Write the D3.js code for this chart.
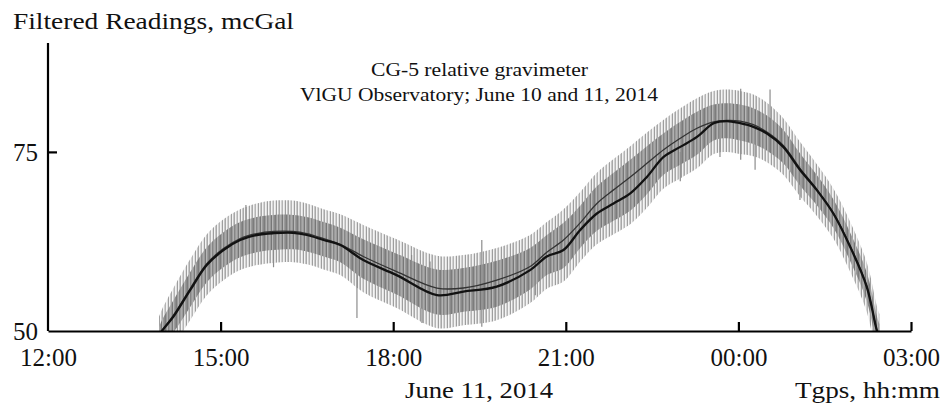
<!DOCTYPE html>
<html>
<head>
<meta charset="utf-8">
<script src="https://cdn.jsdelivr.net/npm/d3@7"></script>
<style>
  html, body { margin: 0; padding: 0; background: #fff; }
  svg { display: block; }
  text { font-family: "Liberation Serif", "Times New Roman", Times, serif; fill: #111; }
</style>
</head>
<body>
<svg id="chart" width="945" height="404"></svg>
<script>
// ---- data (hours since 00:00 June 10, 2014; values in mcGal) ----
const hours = [13.93, 13.98, 14.18, 14.47, 14.76, 15.05, 15.34, 15.63, 15.92, 16.26, 16.50, 16.79, 17.08, 17.48, 18.06, 18.76, 19.22, 19.80, 20.38, 20.67, 20.96, 21.25, 21.54, 21.83, 22.12, 22.41, 22.70, 22.99, 23.28, 23.57, 23.80, 24.03, 24.26, 24.49, 24.78, 25.07, 25.36, 25.65, 25.94, 26.23, 26.41, 26.45];
const runningMean = [49.3, 50.0, 52.0, 55.7, 59.2, 61.3, 62.7, 63.4, 63.65, 63.7, 63.4, 62.7, 62.0, 59.9, 57.8, 55.0, 55.5, 56.2, 58.5, 60.4, 61.3, 64.1, 66.4, 67.8, 69.2, 71.5, 74.3, 75.7, 77.1, 79.0, 79.3, 79.0, 78.5, 77.6, 75.7, 72.5, 69.7, 66.4, 61.8, 56.2, 50.0, 49.3];
const modelCurve = [49.3, 50.0, 52.2, 55.9, 59.4, 61.5, 62.9, 63.6, 63.9, 63.9, 63.6, 62.9, 62.1, 60.4, 58.3, 56.0, 56.0, 57.1, 59.0, 61.0, 62.7, 65.1, 67.8, 69.7, 71.5, 73.4, 75.3, 76.9, 78.3, 79.2, 79.4, 79.3, 78.8, 77.8, 75.9, 72.7, 69.8, 66.5, 61.9, 56.3, 50.0, 49.3];
// dense part of the raw-readings scatter (upper / lower edge)
const rawHighInner = [50.5, 51.5, 54.3, 58.2, 61.7, 63.8, 65.2, 65.9, 66.2, 66.2, 65.9, 65.2, 64.4, 62.8, 60.8, 58.6, 58.8, 59.8, 61.6, 63.4, 65.1, 67.5, 70.2, 72.1, 73.9, 75.8, 77.6, 79.2, 80.6, 81.6, 81.8, 81.6, 81.1, 80.1, 78.1, 74.8, 71.8, 68.4, 63.8, 58.2, 52.0, 51.0];
const rawLowInner  = [47.5, 48.0, 49.8, 53.3, 56.8, 58.9, 60.3, 61.0, 61.3, 61.4, 61.1, 60.4, 59.6, 57.3, 55.1, 52.3, 52.7, 53.4, 55.8, 57.8, 58.8, 61.6, 64.0, 65.4, 66.8, 69.1, 71.8, 73.2, 74.6, 76.6, 76.9, 76.6, 76.1, 75.2, 73.4, 70.3, 67.6, 64.4, 59.8, 54.2, 48.0, 47.3];
// sparse fringe of the raw-readings scatter
const rawHighOuter = [52.0, 53.0, 56.0, 60.0, 63.5, 65.6, 67.0, 67.8, 68.2, 68.2, 67.8, 67.0, 66.3, 64.8, 62.8, 60.5, 60.6, 61.6, 63.4, 65.2, 67.0, 69.4, 72.1, 74.0, 75.8, 77.7, 79.5, 81.1, 82.5, 83.5, 83.7, 83.5, 83.0, 81.9, 79.7, 76.4, 73.3, 69.9, 65.3, 59.6, 53.4, 52.4];
const rawLowOuter  = [46.0, 46.4, 48.0, 51.5, 55.0, 57.1, 58.5, 59.2, 59.5, 59.6, 59.3, 58.6, 57.8, 55.4, 53.2, 50.4, 50.8, 51.5, 53.9, 55.9, 56.9, 59.7, 62.1, 63.5, 64.9, 67.2, 69.9, 71.3, 72.7, 74.7, 75.0, 74.7, 74.4, 73.6, 71.8, 68.8, 66.1, 62.9, 58.3, 52.7, 46.5, 46.0];
// isolated spikes of the raw readings: hour, low, high
const spikeHours = [15.44, 15.92, 17.37, 18.32, 18.50, 18.64, 19.54, 20.47, 22.99, 23.68, 24.04, 24.29, 24.55, 25.07];
const spikeLow   = [62.5, 58.9, 51.8, 57.0, 51.1, 56.0, 50.6, 55.0, 70.9, 74.3, 73.9, 72.5, 77.0, 68.3];
const spikeHigh  = [67.6, 63.5, 61.0, 60.6, 57.0, 59.7, 62.7, 59.0, 75.0, 79.0, 83.8, 78.0, 83.7, 73.0];

const yTicks = [50, 75];
const xTickHours = [12, 15, 18, 21, 24, 27];
const axisTitleY = "Filtered Readings, mcGal";
const axisTitleX = "Tgps, hh:mm";
const dateLabel = "June 11, 2014";
const titleLines = ["CG-5 relative gravimeter", "VlGU Observatory; June 10 and 11, 2014"];

// ---- layout ----
const svg = d3.select("#chart");
const X0 = 48, X1 = 911, Y0 = 331, Y1 = 43;
const base = new Date(2014, 5, 10, 0, 0, 0);
const toDate = h => new Date(base.getTime() + h * 3600 * 1000);

const x = d3.scaleTime().domain([toDate(12), toDate(27)]).range([X0, X1]);
const y = d3.scaleLinear().domain([50, 90.2]).range([Y0, Y1]);

const defs = svg.append("defs");
defs.append("clipPath").attr("id", "plotclip")
  .append("rect").attr("x", X0).attr("y", Y1).attr("width", X1 - X0).attr("height", Y0 - Y1);

// stripe textures imitating the dense vertical scatter of raw readings
const pInner = defs.append("pattern").attr("id", "stripesInner").attr("patternUnits", "userSpaceOnUse")
  .attr("width", 11).attr("height", 50);
pInner.append("rect").attr("width", 11).attr("height", 50).attr("fill", "#9a9a9a");
[[0, "#7c7c7c"], [2, "#b2b2b2"], [3, "#858585"], [5, "#aaaaaa"], [7, "#777777"], [8, "#b6b6b6"], [10, "#8a8a8a"]]
  .forEach(([px, c]) => pInner.append("rect").attr("x", px).attr("width", 1).attr("height", 50).attr("fill", c));
const pOuter = defs.append("pattern").attr("id", "stripesOuter").attr("patternUnits", "userSpaceOnUse")
  .attr("width", 9).attr("height", 50);
pOuter.append("rect").attr("width", 9).attr("height", 50).attr("fill", "#f4f4f4");
[[0, "#a8a8a8"], [2, "#d2d2d2"], [3, "#b4b4b4"], [5, "#e0e0e0"], [6, "#9e9e9e"], [8, "#c8c8c8"]]
  .forEach(([px, c]) => pOuter.append("rect").attr("x", px).attr("width", 1).attr("height", 50).attr("fill", c));

const plot = svg.append("g").attr("clip-path", "url(#plotclip)");
const idx = d3.range(hours.length);

const areaOuter = d3.area().curve(d3.curveCatmullRom)
  .x(i => x(toDate(hours[i]))).y0(i => y(rawLowOuter[i])).y1(i => y(rawHighOuter[i]));
const areaInner = d3.area().curve(d3.curveCatmullRom)
  .x(i => x(toDate(hours[i]))).y0(i => y(rawLowInner[i])).y1(i => y(rawHighInner[i]));

plot.append("path").attr("d", areaOuter(idx)).attr("fill", "url(#stripesOuter)");
plot.append("path").attr("d", areaInner(idx)).attr("fill", "url(#stripesInner)");

plot.selectAll("line.spike").data(d3.range(spikeHours.length)).join("line")
  .attr("class", "spike")
  .attr("x1", i => x(toDate(spikeHours[i]))).attr("x2", i => x(toDate(spikeHours[i])))
  .attr("y1", i => y(spikeLow[i])).attr("y2", i => y(spikeHigh[i]))
  .attr("stroke", "#8c8c8c").attr("stroke-width", 1.2);

const lineModel = d3.line().curve(d3.curveCatmullRom)
  .x(i => x(toDate(hours[i]))).y(i => y(modelCurve[i]));
const lineMean = d3.line().curve(d3.curveCatmullRom)
  .x(i => x(toDate(hours[i]))).y(i => y(runningMean[i]));

plot.append("path").attr("d", lineModel(idx)).attr("fill", "none")
  .attr("stroke", "#333333").attr("stroke-width", 1.3);
plot.append("path").attr("d", lineMean(idx)).attr("fill", "none")
  .attr("stroke", "#121212").attr("stroke-width", 2.3);

// ---- axes ----
const xAxis = d3.axisBottom(x)
  .tickValues(xTickHours.map(toDate))
  .tickFormat(d3.timeFormat("%H:%M"))
  .tickSizeInner(-9).tickSizeOuter(0);
const gx = svg.append("g").attr("transform", `translate(0,${Y0})`).call(xAxis);
gx.attr("font-family", null);
gx.select(".domain").attr("stroke", "#000").attr("stroke-width", 2.2);
gx.selectAll(".tick line").attr("stroke", "#000").attr("stroke-width", 2.2);
gx.selectAll(".tick").filter(d => +d === +toDate(12)).select("line").remove();
gx.selectAll(".tick text").attr("y", 35).attr("dy", 0)
  .style("font-size", "25px").attr("fill", "#111");

const yAxis = d3.axisLeft(y).tickValues(yTicks).tickFormat(d3.format("d"))
  .tickSizeInner(-9).tickSizeOuter(0);
const gy = svg.append("g").attr("transform", `translate(${X0},0)`).call(yAxis);
gy.attr("font-family", null);
gy.select(".domain").attr("d", `M0,${Y1}V${Y0}`).attr("stroke", "#000").attr("stroke-width", 2.2);
gy.selectAll(".tick line").attr("stroke", "#000").attr("stroke-width", 2.2);
gy.selectAll(".tick").filter(d => d === 50).select("line").remove();
gy.selectAll(".tick text").attr("x", -10).attr("dy", "0.34em")
  .style("font-size", "25px").attr("fill", "#111");

// ---- labels ----
svg.append("text").attr("x", 13).attr("y", 29).attr("font-size", 24)
  .attr("textLength", 281).attr("lengthAdjust", "spacingAndGlyphs").text(axisTitleY);
svg.append("text").attr("x", 795).attr("y", 398).attr("font-size", 24)
  .attr("textLength", 145).attr("lengthAdjust", "spacingAndGlyphs").text(axisTitleX);
svg.append("text").attr("x", 405).attr("y", 398).attr("font-size", 24)
  .attr("textLength", 148).attr("lengthAdjust", "spacingAndGlyphs").text(dateLabel);
svg.append("text").attr("x", 371).attr("y", 76).attr("font-size", 19.5)
  .attr("textLength", 217).attr("lengthAdjust", "spacingAndGlyphs").text(titleLines[0]);
svg.append("text").attr("x", 300).attr("y", 101).attr("font-size", 19.5)
  .attr("textLength", 358).attr("lengthAdjust", "spacingAndGlyphs").text(titleLines[1]);
</script>
</body>
</html>
